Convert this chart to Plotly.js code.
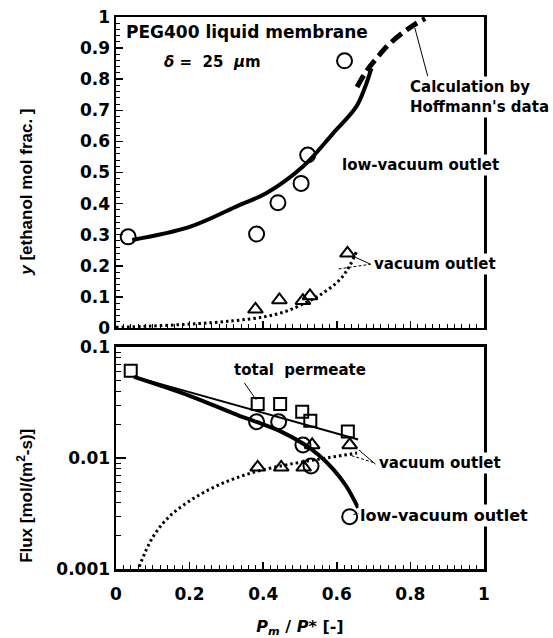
<!DOCTYPE html>
<html>
<head>
<meta charset="utf-8">
<script src="https://cdn.plot.ly/plotly-3.0.1.min.js"></script>
<style>html,body{margin:0;padding:0;background:#fff;}#chart{width:553px;height:638px;}</style>
</head>
<body>
<div id="chart"></div>
<script>
// ---------- data (top panel: permeate composition y) ----------
const lowVacX = [0.033, 0.382, 0.440, 0.503, 0.521, 0.621];
const lowVacY = [0.293, 0.302, 0.403, 0.465, 0.556, 0.859];
const vacX = [0.379, 0.444, 0.508, 0.527, 0.629];
const vacY = [0.060, 0.090, 0.088, 0.103, 0.240];
const calcLowX = [0.044, 0.200, 0.335, 0.408, 0.508, 0.590, 0.653, 0.676, 0.694];
const calcLowY = [0.283, 0.325, 0.395, 0.433, 0.519, 0.626, 0.712, 0.772, 0.835];
const hoffX = [0.655, 0.680, 0.710, 0.740, 0.780, 0.810, 0.840];
const hoffY = [0.775, 0.825, 0.870, 0.910, 0.950, 0.975, 0.995];
const calcVacX = [0.000, 0.090, 0.208, 0.317, 0.403, 0.458, 0.499, 0.553, 0.608, 0.635, 0.655];
const calcVacY = [0.002, 0.006, 0.013, 0.023, 0.036, 0.052, 0.072, 0.105, 0.155, 0.200, 0.250];

// ---------- data (bottom panel: flux) ----------
const totX = [0.040, 0.385, 0.446, 0.506, 0.528, 0.630];
const totF = [0.0612, 0.0306, 0.0306, 0.0261, 0.0217, 0.0173];
const lowFX = [0.382, 0.442, 0.508, 0.530, 0.635];
const lowF = [0.0212, 0.0212, 0.0131, 0.00847, 0.00296];
const vacFX = [0.385, 0.449, 0.510, 0.533, 0.635];
const vacF = [0.00824, 0.00824, 0.00824, 0.0131, 0.0131];
const calcTotX = [0.049, 0.335, 0.658];
const calcTotF = [0.0541, 0.0294, 0.0147];
const calcLowFX = [0.049, 0.200, 0.335, 0.382, 0.450, 0.508, 0.550, 0.590, 0.625, 0.658];
const calcLowF = [0.0537, 0.0363, 0.0240, 0.0211, 0.0172, 0.0135, 0.0107, 0.00794, 0.00562, 0.00355];
const calcVacFX = [0.063, 0.099, 0.144, 0.208, 0.281, 0.362, 0.450, 0.517, 0.580, 0.655];
const calcVacF = [0.00105, 0.00191, 0.00295, 0.00427, 0.00575, 0.00724, 0.00851, 0.00933, 0.0101, 0.0111];

// ---------- tick labels ----------
const xTickVals = [0, 0.2, 0.4, 0.6, 0.8, 1];
const xTickText = ['0', '0.2', '0.4', '0.6', '0.8', '1'];
const yTopTickVals = [0, 0.1, 0.2, 0.3, 0.4, 0.5, 0.6, 0.7, 0.8, 0.9, 1];
const yTopTickText = ['0', '0.1', '0.2', '0.3', '0.4', '0.5', '0.6', '0.7', '0.8', '0.9', '1'];
const fluxTickVals = [0.001, 0.01, 0.1];
const fluxTickText = ['0.001', '0.01', '0.1'];
const fluxMinorVals = [0.002, 0.003, 0.004, 0.005, 0.006, 0.007, 0.008, 0.009,
                       0.02, 0.03, 0.04, 0.05, 0.06, 0.07, 0.08, 0.09];

const BLACK = '#000';
const TF = {family: 'DejaVu Sans', size: 17, color: BLACK, weight: 'bold'};
const AF = {family: 'DejaVu Sans', size: 15, color: BLACK, weight: 'bold'};

const mk = (sym, size) => ({symbol: sym, size: size, color: BLACK, line: {color: BLACK, width: 2}});

const traces = [
  // top panel
  {x: calcVacX, y: calcVacY, xaxis: 'x', yaxis: 'y', mode: 'lines', line: {color: BLACK, width: 3, dash: '2.5px,3px', shape: 'spline'}},
  {x: calcLowX, y: calcLowY, xaxis: 'x', yaxis: 'y', mode: 'lines', line: {color: BLACK, width: 4, shape: 'spline'}},
  {x: hoffX, y: hoffY, xaxis: 'x', yaxis: 'y', mode: 'lines', line: {color: BLACK, width: 5, dash: '13px,6px', shape: 'spline'}},
  {x: lowVacX, y: lowVacY, xaxis: 'x', yaxis: 'y', mode: 'markers', marker: mk('circle-open', 15)},
  {x: vacX, y: vacY, xaxis: 'x', yaxis: 'y', mode: 'markers', marker: mk('triangle-up-open', 13)},
  // bottom panel
  {x: calcVacFX, y: calcVacF, xaxis: 'x2', yaxis: 'y2', mode: 'lines', line: {color: BLACK, width: 3, dash: '2.5px,3px', shape: 'spline'}},
  {x: calcTotX, y: calcTotF, xaxis: 'x2', yaxis: 'y2', mode: 'lines', line: {color: BLACK, width: 2}},
  {x: calcLowFX, y: calcLowF, xaxis: 'x2', yaxis: 'y2', mode: 'lines', line: {color: BLACK, width: 4, shape: 'spline'}},
  {x: totX, y: totF, xaxis: 'x2', yaxis: 'y2', mode: 'markers', marker: mk('square-open', 12)},
  {x: lowFX, y: lowF, xaxis: 'x2', yaxis: 'y2', mode: 'markers', marker: mk('circle-open', 15)},
  {x: vacFX, y: vacF, xaxis: 'x2', yaxis: 'y2', mode: 'markers', marker: mk('triangle-up-open', 13)},
  // invisible trace to carry the minor-tick overlay axis
  {x: [0.5], y: [0.01], xaxis: 'x2', yaxis: 'y3', mode: 'markers', marker: {opacity: 0}, hoverinfo: 'skip'}
];

const commonX = {
  range: [0, 1], tickvals: xTickVals, ticktext: xTickText,
  ticks: 'inside', ticklen: 7, tickwidth: 1.5, tickcolor: BLACK,
  minor: {dtick: 0.02, tick0: 0, ticks: 'inside', ticklen: 4, tickwidth: 1, tickcolor: BLACK, showgrid: false},
  showline: true, linewidth: 2.5, linecolor: BLACK, mirror: true,
  showgrid: false, zeroline: false, tickfont: TF, fixedrange: true
};

const titleFont = {family: 'Liberation Sans', size: 17, color: BLACK, weight: 'bold'};

const layout = {
  width: 553, height: 638,
  margin: {l: 116, r: 69, t: 17, b: 69},
  paper_bgcolor: '#fff', plot_bgcolor: '#fff',
  showlegend: false,
  xaxis: Object.assign({}, commonX, {anchor: 'y', showticklabels: false}),
  xaxis2: Object.assign({}, commonX, {anchor: 'y2', ticklabelstandoff: 8,
    title: {text: '<i>P<sub>m</sub></i> / <i>P</i>* [-]', font: {family: 'DejaVu Sans', size: 16, color: BLACK, weight: 'bold'}, standoff: 18}}),
  yaxis: {
    domain: [0.4366, 1], anchor: 'x', range: [0, 1],
    tickvals: yTopTickVals, ticktext: yTopTickText,
    ticks: 'inside', ticklen: 7, tickwidth: 1.5, tickcolor: BLACK,
    minor: {dtick: 0.02, tick0: 0, ticks: 'inside', ticklen: 4, tickwidth: 1, tickcolor: BLACK, showgrid: false},
    showline: true, linewidth: 2.5, linecolor: BLACK, mirror: true,
    showgrid: false, zeroline: false, tickfont: TF, fixedrange: true
  },
  yaxis2: {
    domain: [0, 0.4022], anchor: 'x2', type: 'log', range: [-3, -1],
    tickvals: fluxTickVals, ticktext: fluxTickText,
    ticks: 'inside', ticklen: 10, tickwidth: 1.5, tickcolor: BLACK,
    showline: true, linewidth: 2.5, linecolor: BLACK, mirror: true,
    showgrid: false, zeroline: false, tickfont: TF, fixedrange: true
  },
  yaxis3: {
    overlaying: 'y2', anchor: 'x2', side: 'left', type: 'log', range: [-3, -1],
    tickvals: fluxMinorVals, showticklabels: false,
    ticks: 'inside', ticklen: 5, tickwidth: 1, tickcolor: BLACK,
    showline: false, showgrid: false, zeroline: false, fixedrange: true
  },
  annotations: [
    {xref: 'paper', yref: 'paper', x: -0.2425, y: 0.683, text: '<i>y</i> [ethanol mol frac. ]', textangle: -90, showarrow: false,
     font: titleFont, xanchor: 'center', yanchor: 'middle'},
    {xref: 'paper', yref: 'paper', x: -0.248, y: 0.132, text: 'Flux [mol/(m<sup>2</sup>-s)]', textangle: -90, showarrow: false,
     font: titleFont, xanchor: 'center', yanchor: 'middle'},
    {xref: 'x', yref: 'y', x: 0.022, y: 0.952, text: 'PEG400 liquid membrane', showarrow: false, xanchor: 'left', yanchor: 'middle', font: {family: 'DejaVu Sans', size: 17, color: BLACK, weight: 'bold'}},
    {xref: 'x', yref: 'y', x: 0.125, y: 0.855, text: '<i>δ</i> =  25  <i>μ</i>m', showarrow: false, xanchor: 'left', yanchor: 'middle', font: AF},
    {xref: 'x', yref: 'y', x: 0.793, y: 0.743, text: 'Calculation by<br>Hoffmann\'s data', showarrow: false, xanchor: 'left', yanchor: 'middle', align: 'left', bgcolor: '#fff', borderpad: 1, font: AF},
    {xref: 'x', yref: 'y', x: 0.608, y: 0.524, text: 'low-vacuum outlet', showarrow: false, xanchor: 'left', yanchor: 'middle', bgcolor: '#fff', borderpad: 1, font: AF},
    {xref: 'x', yref: 'y', x: 0.695, y: 0.205, text: 'vacuum outlet', showarrow: false, xanchor: 'left', yanchor: 'middle', bgcolor: '#fff', borderpad: 1, font: AF},
    {xref: 'x2', yref: 'y2', x: 0.316, y: -1.207, text: 'total  permeate', showarrow: false, xanchor: 'left', yanchor: 'middle', font: AF},
    {xref: 'x2', yref: 'y2', x: 0.708, y: -2.045, text: 'vacuum outlet', showarrow: false, xanchor: 'left', yanchor: 'middle', bgcolor: '#fff', borderpad: 1, font: AF},
    {xref: 'x2', yref: 'y2', x: 0.657, y: -2.514, text: 'low-vacuum outlet', showarrow: false, xanchor: 'left', yanchor: 'middle', bgcolor: '#fff', borderpad: 1,
     font: {family: 'DejaVu Sans', size: 16, color: BLACK, weight: 'bold'}}
  ],
  shapes: [
    {type: 'line', xref: 'x', yref: 'y', x0: 0.812, y0: 0.965, x1: 0.847, y1: 0.81, line: {color: BLACK, width: 1}},
    {type: 'line', xref: 'x', yref: 'y', x0: 0.642, y0: 0.232, x1: 0.692, y1: 0.205, line: {color: BLACK, width: 1}},
    {type: 'line', xref: 'x', yref: 'y', x0: 0.605, y0: 0.19, x1: 0.692, y1: 0.205, line: {color: BLACK, width: 1, dash: '3px,2px'}},
    {type: 'line', xref: 'x2', yref: 'y2', x0: 0.349, y0: 0.0474, x1: 0.381, y1: 0.0334, line: {color: BLACK, width: 1}},
    {type: 'line', xref: 'x2', yref: 'y2', x0: 0.64, y0: 0.0105, x1: 0.705, y1: 0.009, line: {color: BLACK, width: 1, dash: '3px,2px'}},
    {type: 'line', xref: 'x2', yref: 'y2', x0: 0.66, y0: 0.0118, x1: 0.705, y1: 0.0088, line: {color: BLACK, width: 1}},
    {type: 'line', xref: 'x2', yref: 'y2', x0: 0.645, y0: 0.0031, x1: 0.665, y1: 0.0032, line: {color: BLACK, width: 1, dash: '3px,2px'}}
  ]
};

Plotly.newPlot('chart', traces, layout, {displayModeBar: false, staticPlot: true});
</script>
</body>
</html>
